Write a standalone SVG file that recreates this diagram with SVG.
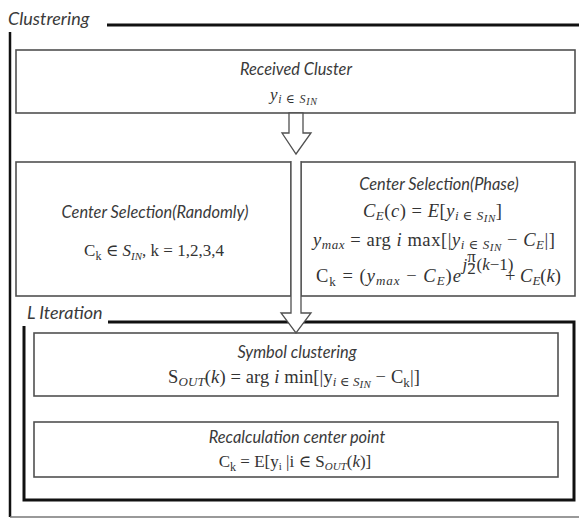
<svg xmlns="http://www.w3.org/2000/svg" width="579" height="519" viewBox="0 0 579 519">
<style>
.bg{fill:#fff}
.box{fill:#fff;stroke:#505050;stroke-width:1.6}
.frame{fill:none;stroke:#111;stroke-width:3}
.lbl{font-family:Lato,"Open Sans",sans-serif;font-style:italic;font-size:16.4px;fill:#3a3a3a}
.ttl{font-family:Lato,"Open Sans",sans-serif;font-style:italic;font-size:18px;fill:#3a3a3a}
.m{font-family:"Liberation Serif","DejaVu Serif",serif;font-size:17px;fill:#333}
.m2{font-family:"Liberation Serif","DejaVu Serif",serif;font-size:18.5px;fill:#333}
.i{font-style:italic}
.arrow{fill:#fff;stroke:#505050;stroke-width:1.3}
</style>
<rect class="bg" x="0" y="0" width="579" height="519"/>

<g id="outer-frame">
  <text class="ttl" x="8" y="25">Clustrering</text>
  <path class="frame" d="M107,25 H579"/>
  <path d="M10,32 V517" stroke="#111" stroke-width="2.5" fill="none"/>
  <path d="M10,517 H579" stroke="#777" stroke-width="1.5" fill="none"/>
</g>

<g id="l-iteration-frame">
  <text class="ttl" x="27" y="319" font-size="17.5">L Iteration</text>
  <path class="frame" d="M108,322 H574 V500 H24 V326"/>
</g>

<g id="received-cluster">
  <rect class="box" x="16" y="50" width="559" height="63"/>
  <text class="lbl" x="296" y="75" text-anchor="middle">Received Cluster</text>
  <text class="m" x="270" y="100" textLength="47"><tspan class="i">y</tspan><tspan font-size="12" dy="3"><tspan class="i">i</tspan> ∈ <tspan class="i">S</tspan></tspan><tspan class="i" font-size="10" dy="2">IN</tspan></text>
</g>

<g id="center-random">
  <rect class="box" x="16" y="162" width="275" height="134"/>
  <text class="lbl" x="155" y="218" text-anchor="middle">Center Selection(Randomly)</text>
  <text class="m" x="154" y="256" text-anchor="middle">C<tspan font-size="12" dy="4">k</tspan><tspan dy="-4"> ∈ </tspan><tspan class="i">S</tspan><tspan class="i" font-size="11" dy="4">IN</tspan><tspan dy="-4">, k = 1,2,3,4</tspan></text>
</g>

<g id="center-phase">
  <rect class="box" x="301" y="162" width="274" height="134"/>
  <text class="lbl" x="439" y="190" text-anchor="middle">Center Selection(Phase)</text>
  <text class="m2" x="363" y="217" textLength="139"><tspan class="i">C</tspan><tspan class="i" font-size="13" dy="3">E</tspan><tspan dy="-3">(</tspan><tspan class="i">c</tspan><tspan>) = </tspan><tspan class="i">E</tspan><tspan>[</tspan><tspan class="i">y</tspan><tspan font-size="13" dy="3"><tspan class="i">i</tspan> ∈ <tspan class="i">S</tspan></tspan><tspan class="i" font-size="11" dy="2">IN</tspan><tspan dy="-5">]</tspan></text>
  <text class="m2" x="313" y="246" textLength="242"><tspan class="i">y</tspan><tspan class="i" font-size="13" dy="3">max</tspan><tspan dy="-3">  = arg </tspan><tspan class="i">i</tspan><tspan> max[|</tspan><tspan class="i">y</tspan><tspan font-size="13" dy="3"><tspan class="i">i</tspan> ∈ <tspan class="i">S</tspan></tspan><tspan class="i" font-size="11" dy="2">IN</tspan><tspan dy="-5"> − </tspan><tspan class="i">C</tspan><tspan class="i" font-size="13" dy="3">E</tspan><tspan dy="-3">|]</tspan></text>
  <text class="m2" x="316" y="282" textLength="145">C<tspan font-size="13" dy="4">k</tspan><tspan dy="-4"> = (</tspan><tspan class="i">y</tspan><tspan class="i" font-size="13" dy="3">max</tspan><tspan dy="-3"> − </tspan><tspan class="i">C</tspan><tspan class="i" font-size="13" dy="3">E</tspan><tspan dy="-3">)</tspan><tspan class="i">e</tspan></text>
  <text class="m i" x="462.5" y="270" font-size="11">j</text>
  <text class="m" x="471.5" y="262" font-size="9.5" text-anchor="middle">π</text>
  <line x1="468" y1="264.5" x2="475" y2="264.5" stroke="#333" stroke-width="0.6"/>
  <text class="m" x="471.5" y="274" font-size="9.5" text-anchor="middle">2</text>
  <text class="m" x="476.5" y="270" font-size="10">(<tspan class="i">k</tspan>−1)</text>
  <text class="m2" x="505" y="282">+ <tspan class="i">C</tspan><tspan class="i" font-size="13" dy="3">E</tspan><tspan dy="-3">(</tspan><tspan class="i">k</tspan><tspan>)</tspan></text>
</g>

<g id="symbol-clustering">
  <rect class="box" x="34" y="333" width="524" height="63"/>
  <text class="lbl" x="297" y="358" text-anchor="middle">Symbol clustering</text>
  <text class="m2" x="168" y="383" textLength="252">S<tspan class="i" font-size="13" dy="3">OUT</tspan><tspan dy="-3">(</tspan><tspan class="i">k</tspan><tspan>) = arg </tspan><tspan class="i">i</tspan><tspan> min[|y</tspan><tspan font-size="13" dy="3"><tspan class="i">i</tspan> ∈ <tspan class="i">S</tspan></tspan><tspan class="i" font-size="11" dy="2">IN</tspan><tspan dy="-5"> − C</tspan><tspan font-size="13" dy="4">k</tspan><tspan dy="-4">|]</tspan></text>
</g>

<g id="recalculation">
  <rect class="box" x="34" y="422" width="524" height="55"/>
  <text class="lbl" x="297" y="443" text-anchor="middle">Recalculation center point</text>
  <text class="m" x="295" y="467" text-anchor="middle">C<tspan font-size="12" dy="4">k</tspan><tspan dy="-4"> = E[y</tspan><tspan font-size="11" dy="3">i</tspan><tspan dy="-3"> |i ∈ S</tspan><tspan class="i" font-size="11" dy="3">OUT</tspan><tspan dy="-3">(</tspan><tspan class="i">k</tspan><tspan>)]</tspan></text>
</g>

<g id="connectors">
  <polygon class="arrow" points="289,113 303,113 303,133 311,133 296,154 282,133 289,133"/>
  <polygon points="291,161 301,161 301,313 311,313 296,333 281,313 291,313" fill="#fff" stroke="none"/>
  <path class="arrow" fill="none" d="M291,161 V313 H281 L296,333 L311,313 H301 V161"/>
</g>
</svg>
